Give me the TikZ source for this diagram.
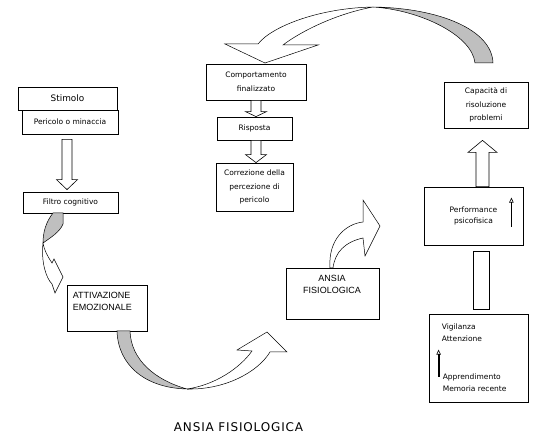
\documentclass[tikz,border=0pt]{standalone}
\usepackage{fontspec}
\setmainfont{DejaVu Sans}
\newfontfamily\wordfont{Liberation Sans}
\usetikzlibrary{calc,arrows.meta}

\tikzset{
  box/.style={draw, line width=0.8pt, fill=white, inner sep=1pt, align=center,
    font=\fontsize{7.5}{13.5}\selectfont},
  blk/.style={draw, line width=0.6pt, fill=white, line join=miter},
  curva/.style={draw, line width=0.5pt, fill=white},
  ombra/.style={draw, line width=0.5pt, fill=black!25},
  freccina/.style={line width=1.8pt, -{Triangle[open, width=4.5pt, length=5pt, line width=0.6pt]}}
}

% block arrow: #1 start, #2 tip, #3 half shaft, #4 half head, #5 head length
\newcommand{\frecciona}[5]{%
  \coordinate (fb) at ($(#2)!#5!(#1)$);
  \draw[blk] ($(#1)!#3!90:(#2)$) -- ($(fb)!#3!90:(#2)$) -- ($(fb)!#4!90:(#2)$) -- (#2)
    -- ($(fb)!#4!-90:(#2)$) -- ($(fb)!#3!-90:(#2)$) -- ($(#1)!#3!-90:(#2)$) -- cycle;}

\begin{document}
\begin{tikzpicture}[x=1pt, y=-1pt]
\useasboundingbox (0,0) rectangle (539,438);

% left column
\node[box, minimum width=96, minimum height=24] (pericolo) at (70,122) {Pericolo o minaccia};
\node[box, minimum width=99, minimum height=23, font=\fontsize{8.9}{10}\selectfont] (stimolo) at (67.5,98.5) {Stimolo};
\node[box, minimum width=95, minimum height=21] (filtro) at (70.5,202.5) {Filtro cognitivo};
\node[box, minimum width=80, minimum height=46] (attiv) at (107,308) {};
\node[anchor=north west, inner sep=0, align=left, font=\wordfont\fontsize{9}{12.5}\selectfont] (attivtxt)
  at ($(attiv.north west)+(6,7)$) {ATTIVAZIONE\\EMOZIONALE};

% middle
\node[box, minimum width=93, minimum height=51] (ansia) at (332.5,293.5) {};
\node[inner sep=0, align=center, font=\wordfont\fontsize{9}{12}\selectfont] (ansiatxt)
  at (332,284) {ANSIA\\FISIOLOGICA};
\node[box, minimum width=100, minimum height=36] (comport) at (256,82) {Comportamento\\finalizzato};
\node[box, minimum width=75, minimum height=23] (risposta) at (254.5,128.5) {Risposta};
\node[box, minimum width=77, minimum height=48] (correz) at (254.5,187) {Correzione della\\percezione di\\pericolo};

% right column
\node[box, minimum width=84, minimum height=46] (capacita) at (486,105) {Capacità di\\risoluzione\\problemi};
\node[box, minimum width=99, minimum height=58, font=\fontsize{7.5}{11}\selectfont] (perform) at (473.5,216)
  {Performance\\psicofisica};
\node[box, minimum width=16, minimum height=58] (colonna) at (481,280) {};
\node[box, minimum width=99, minimum height=88] (vigil) at (478.5,358) {};
\node[anchor=west, inner sep=0, align=left, font=\fontsize{7.5}{12}\selectfont] (vig1)
  at ($(vigil.north west)+(13,19)$) {Vigilanza\\Attenzione};
\node[anchor=west, inner sep=0, align=left, font=\fontsize{7.5}{12}\selectfont] (vig2)
  at ($(vigil.north west)+(14,69)$) {Apprendimento\\Memoria recente};

\draw[freccina] ($(perform.north east)+(-12,40)$) -- ($(perform.north east)+(-12,11)$);
\draw[freccina] ($(vigil.north west)+(10,63)$) -- ($(vigil.north west)+(10,36)$);

% block arrows
\coordinate (a1) at ($(pericolo.south)+(-3,5)$);
\coordinate (b1) at ($(filtro.north)+(-3.5,-2)$);
\frecciona{a1}{b1}{5pt}{10.5pt}{10pt}
\coordinate (a2) at (comport.south);
\coordinate (b2) at (comport.south |- risposta.north);
\frecciona{a2}{b2}{5pt}{10.5pt}{5pt}
\coordinate (a3) at ($(risposta.south)+(1.5,0)$);
\coordinate (b3) at (a3 |- correz.north);
\frecciona{a3}{b3}{5pt}{10.5pt}{8pt}
\coordinate (a4) at ($(perform.north)+(9,0)$);
\coordinate (b4) at ($(capacita.south)+(-3.5,12)$);
\frecciona{a4}{b4}{6.5pt}{14.5pt}{12pt}

% curved arrows
\draw[ombra] (53,213) -- (63,213) -- (63,224) .. controls (60,232) and (50,238) .. (43,243)
  .. controls (43,232) and (46,222) .. cycle;
\draw[curva] (43,243) .. controls (41,262) and (46,278) .. (52,284) -- (55,293) -- (63,277)
  -- (54,259) -- (52,263) .. controls (48,257) and (44,250) .. cycle;

\draw[ombra] (117,331) .. controls (118,365) and (145,388) .. (187,389)
  .. controls (155,380) and (131,360) .. (130,331) -- cycle;
\draw[curva] (187,389) .. controls (225,390) and (258,372) .. (270,352) -- (287,352) -- (267,332)
  -- (237,350) -- (252,351) .. controls (240,368) and (215,385) .. cycle;

\draw[curva] (330,268) .. controls (328,240) and (345,224) .. (363,222) -- (363,200) -- (380,226)
  -- (365,256) -- (363,238) .. controls (345,242) and (335,252) .. (333,268) -- cycle;

\draw[ombra] (373,7) .. controls (440,8) and (492,30) .. (493,63) -- (475,63)
  .. controls (472,35) and (420,10) .. cycle;
\draw[curva] (258,44) -- (225,44) -- (265,63) -- (318,45) -- (283,45)
  .. controls (300,32) and (335,14) .. (373,7) .. controls (320,8) and (272,26) .. cycle;

\node[font=\fontsize{12}{14}\selectfont\addfontfeature{LetterSpace=7}] (titolo) at (238.5,427) {ANSIA FISIOLOGICA};

\end{tikzpicture}
\end{document}
